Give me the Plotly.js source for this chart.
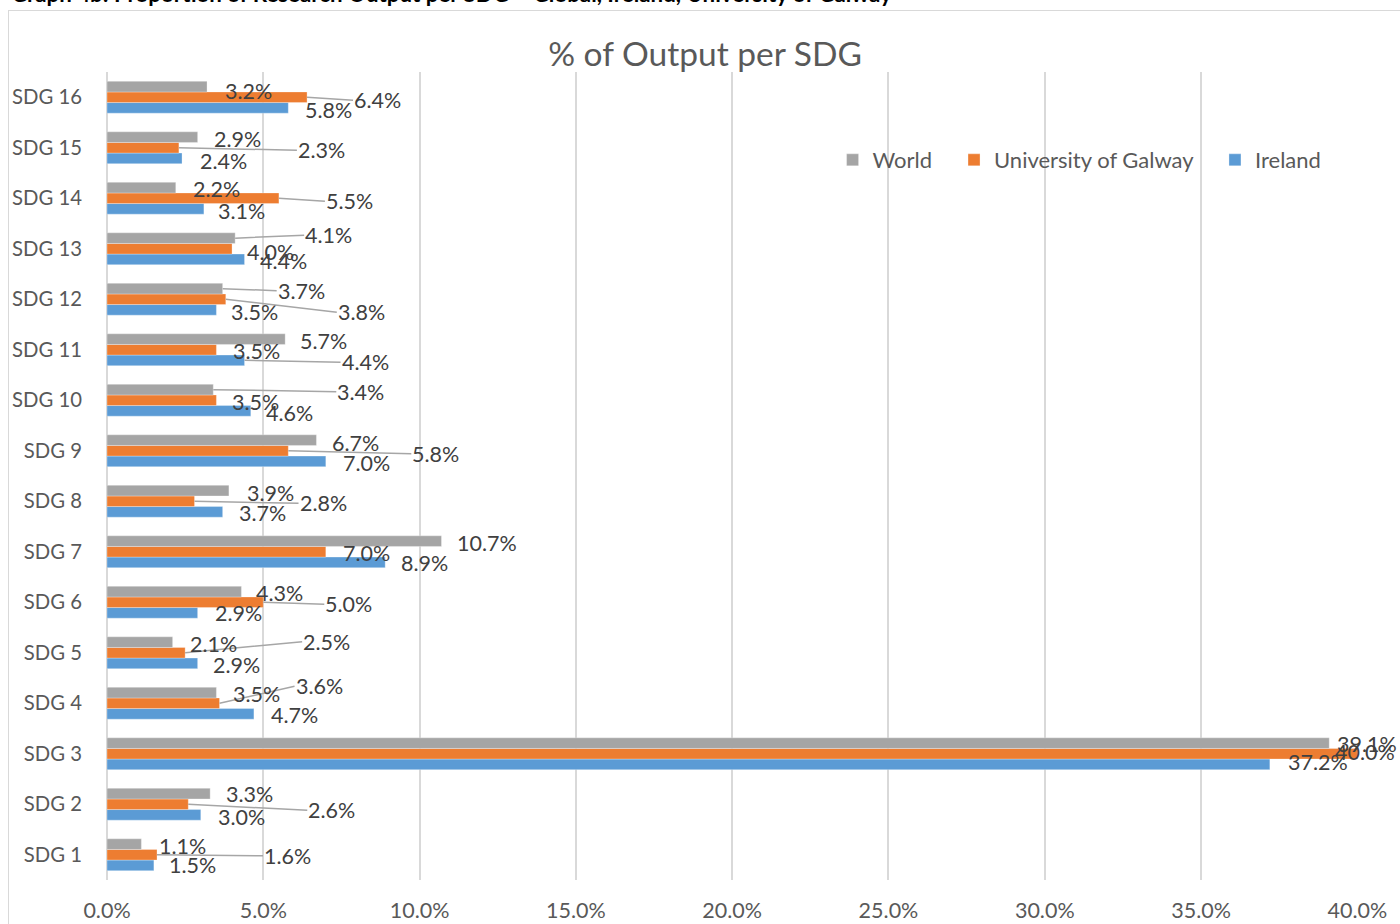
<!DOCTYPE html>
<html>
<head>
<meta charset="utf-8">
<script src="https://cdn.plot.ly/plotly-3.0.1.min.js"></script>
<style>
  html, body { margin:0; padding:0; background:#fff; width:1400px; height:924px; overflow:hidden; }
  #header { position:absolute; left:11px; top:-19px; font: bold 22.3px Lato, sans-serif; line-height:26px; color:#000; white-space:nowrap; }
  #frame { position:absolute; left:8px; top:10px; width:1400px; height:930px; border:1px solid #d9d9d9; box-sizing:border-box; }
  #chart { position:absolute; left:0; top:0; width:1400px; height:924px; }
</style>
</head>
<body>
<div id="header">Graph 4b: Proportion of Research Output per SDG – Global, Ireland, University of Galway</div>
<div id="frame"></div>
<div id="chart"></div>
<script>
// ---- Data (percent of output) ----
const categories = ['SDG 1','SDG 2','SDG 3','SDG 4','SDG 5','SDG 6','SDG 7','SDG 8',
                    'SDG 9','SDG 10','SDG 11','SDG 12','SDG 13','SDG 14','SDG 15','SDG 16'];
const ireland = [1.5, 3.0, 37.2, 4.7, 2.9, 2.9, 8.9, 3.7, 7.0, 4.6, 4.4, 3.5, 4.4, 3.1, 2.4, 5.8];
const galway  = [1.6, 2.6, 40.0, 3.6, 2.5, 5.0, 7.0, 2.8, 5.8, 3.5, 3.5, 3.8, 4.0, 5.5, 2.3, 6.4];
const world   = [1.1, 3.3, 39.1, 3.5, 2.1, 4.3, 10.7, 3.9, 6.7, 3.4, 5.7, 3.7, 4.1, 2.2, 2.9, 3.2];
const seriesNames = ['Ireland', 'University of Galway', 'World'];

// ---- Label placement (pixel offsets from bar end; separate from data) ----
const labelPlacement = {
  'Ireland': {
    dx: [14,16,17,16,14,16,15,15,16,14,96,14,14,13,17,16],
    dy: [0,2,-2,1,2,0,1,1,2,2,2,2,2,2.5,3,2.5],
    leader: [0,0,0,0,0,0,0,0,0,0,1,0,0,0,0,0],
    barShift: -10.6
  },
  'University of Galway': {
    dx: [106,119,-23,75,117,61,16,104,123,15,16,111,14,46,118,46],
    dy: [1,6,-2,-17,-11,2,1,2,3,2,1,13,3.5,3,2.5,3],
    leader: [1,1,0,1,1,1,0,1,1,0,0,1,0,1,1,1],
    barShift: 0
  },
  'World': {
    dx: [17,15,7,16,16,14,15,17,15,123,14,54,69,16,15,17],
    dy: [2,0,1,1,2,1,2,2,3,2,2,2,-3,1.5,2,4],
    leader: [0,0,0,0,0,0,0,0,0,1,0,1,1,0,0,0],
    barShift: 10.6
  }
};

const colors = {'Ireland':'#5b9bd5', 'University of Galway':'#ed7d31', 'World':'#a5a5a5'};
const valuesBy = {'Ireland': ireland, 'University of Galway': galway, 'World': world};
const legendPad = {'Ireland': '', 'University of Galway': '\u00a0\u00a0\u00a0', 'World': '\u00a0\u00a0\u00a0'};
const FONT = 'Lato, "Open Sans", sans-serif';

const traces = seriesNames.map(name => ({
  type: 'bar',
  orientation: 'h',
  name: name + legendPad[name],
  y: categories,
  x: valuesBy[name],
  marker: { color: colors[name], line: { color: 'rgba(255,255,255,0.5)', width: 0.6 } },
  hoverinfo: 'skip'
}));

const annotations = [];
seriesNames.forEach(name => {
  const p = labelPlacement[name];
  valuesBy[name].forEach((v, i) => {
    const txt = v.toFixed(1) + '%';
    const base = {
      x: v, y: categories[i], xref: 'x', yref: 'y', text: txt,
      font: { family: FONT, size: 21.5, color: '#404040' },
      xanchor: 'left', yanchor: 'middle', borderpad: 0
    };
    if (p.leader[i]) {
      annotations.push(Object.assign(base, {
        showarrow: true, arrowhead: 0, arrowwidth: 1.5, arrowcolor: '#a6a6a6',
        axref: 'pixel', ayref: 'pixel', ax: p.dx[i], ay: p.dy[i],
        yshift: p.barShift, standoff: 0, startstandoff: 0
      }));
    } else {
      annotations.push(Object.assign(base, {
        showarrow: false, xshift: p.dx[i], yshift: p.barShift - p.dy[i]
      }));
    }
  });
});

const layout = {
  width: 1400, height: 924,
  paper_bgcolor: 'rgba(0,0,0,0)', plot_bgcolor: 'rgba(0,0,0,0)',
  margin: { l: 107, r: 42, t: 72, b: 44 },
  barmode: 'group', bargap: 0.37, bargroupgap: 0,
  font: { family: FONT, color: '#595959' },
  title: {
    text: '% of Output per SDG',
    font: { family: FONT, size: 33.5, color: '#595959' },
    x: 0.5036, xref: 'container', y: 0.941, yref: 'container', xanchor: 'center', yanchor: 'middle'
  },
  xaxis: {
    range: [0, 40.02], dtick: 5, tick0: 0,
    ticksuffix: '%', tickformat: '.1f',
    showgrid: true, gridcolor: '#d9d9d9', gridwidth: 2,
    zeroline: true, zerolinecolor: '#d9d9d9', zerolinewidth: 2,
    showline: false, ticks: '',
    tickfont: { family: FONT, size: 21.5, color: '#595959' },
    ticklabelstandoff: 15, fixedrange: true
  },
  yaxis: {
    type: 'category', categoryorder: 'array', categoryarray: categories,
    showgrid: false, zeroline: false, showline: false, ticks: '',
    tickfont: { family: FONT, size: 20.3, color: '#595959' },
    ticklabelstandoff: 24, fixedrange: true
  },
  legend: {
    orientation: 'h', traceorder: 'reversed',
    x: 0.580, xref: 'paper', y: 0.891, yref: 'paper', xanchor: 'left', yanchor: 'middle',
    font: { family: FONT, size: 22, color: '#595959' },
    bgcolor: 'rgba(0,0,0,0)'
  },
  annotations: annotations,
  showlegend: true
};

Plotly.newPlot('chart', traces, layout, { displayModeBar: false, staticPlot: true });
</script>
</body>
</html>
